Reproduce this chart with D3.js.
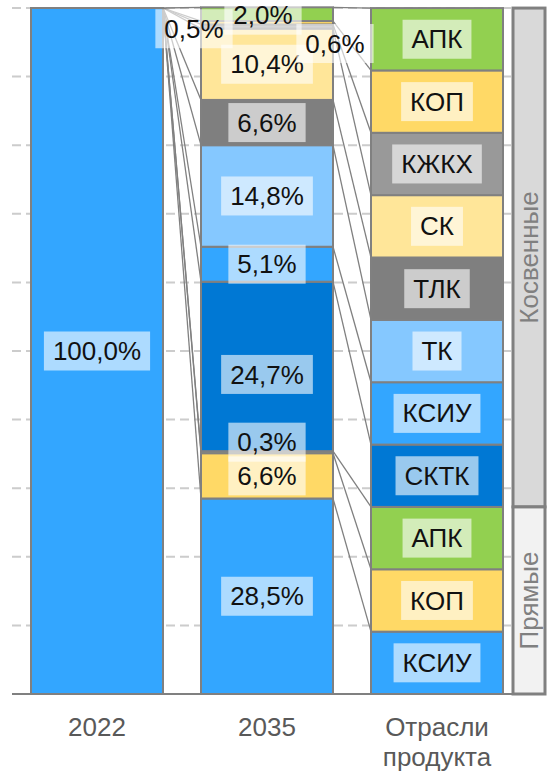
<!DOCTYPE html>
<html>
<head>
<meta charset="utf-8">
<script src="https://cdn.jsdelivr.net/npm/d3@7"></script>
<style>
  html, body { margin: 0; padding: 0; background: #ffffff; }
  svg { display: block; font-family: "Liberation Sans", Arial, sans-serif; }
</style>
</head>
<body>
<svg id="chart" width="548" height="775"></svg>
<script>
// Columns on the x axis
const categories = ["2022", "2035", "Отрасли продукта"];

// Stacked series, bottom to top
const seriesNames = ["КСИУ", "КОП", "АПК", "СКТК", "КСИУ", "ТК", "ТЛК", "СК", "КЖКХ", "КОП", "АПК"];
const seriesGroups = ["Прямые", "Прямые", "Прямые",
  "Косвенные", "Косвенные", "Косвенные", "Косвенные", "Косвенные", "Косвенные", "Косвенные", "Косвенные"];
const seriesColors = ["#33a6ff", "#ffd966", "#92d050", "#0078d4", "#33a6ff", "#85c8ff",
  "#7f7f7f", "#ffe699", "#999999", "#ffd966", "#92d050"];

// Shares, %
const values2022 = [100.0, 0, 0, 0, 0, 0, 0, 0, 0, 0, 0];
const values2035 = [28.5, 6.6, 0.3, 24.7, 5.1, 14.8, 6.6, 10.4, 0.6, 0.5, 2.0];
// Industry column: every industry takes an equal slot
const valuesIndustry = [9.09, 9.09, 9.09, 9.09, 9.09, 9.09, 9.09, 9.09, 9.09, 9.09, 9.09];

// Group bracket fills
const groupNames = ["Косвенные", "Прямые"];
const groupFills = { "Косвенные": "#d9d9d9", "Прямые": "#f2f2f2" };

// Gridline values
const gridTicks = [0, 10, 20, 30, 40, 50, 60, 70, 80, 90, 100];

const W = 548, H = 775;
const margin = { top: 8, right: 26, bottom: 81, left: 12 };
const plotRight = W - margin.right;
const plotBottom = H - margin.bottom;

const svg = d3.select("#chart");

const x = d3.scaleBand()
  .domain(categories)
  .range([margin.left, plotRight])
  .paddingInner(0.2235)
  .paddingOuter(0.2235 / 2);

const y = d3.scaleLinear().domain([0, 100]).range([plotBottom, margin.top]);

const columns = [values2022, values2035, valuesIndustry];

// Stack each column
const stacks = columns.map((vals, ci) => {
  let acc = 0;
  return vals.map((v, si) => {
    const y0 = acc; acc += v;
    return { col: ci, series: si, value: v, y0: y0, y1: acc };
  });
});

// Gridlines
svg.append("g")
  .selectAll("line")
  .data(gridTicks.filter(t => t > 0))
  .join("line")
  .attr("x1", margin.left).attr("x2", plotRight)
  .attr("y1", d => y(d)).attr("y2", d => y(d))
  .attr("stroke", "#cccccc")
  .attr("stroke-width", 2)
  .attr("stroke-dasharray", "9,5");

// Series lines between neighbouring columns
const linesG = svg.append("g");
for (let ci = 0; ci < columns.length - 1; ci++) {
  const xa = x(categories[ci]) + x.bandwidth();
  const xb = x(categories[ci + 1]);
  linesG.selectAll(null)
    .data(seriesNames.map((_, si) => si))
    .join("line")
    .attr("x1", xa).attr("x2", xb)
    .attr("y1", si => y(stacks[ci][si].y1))
    .attr("y2", si => y(stacks[ci + 1][si].y1))
    .attr("stroke", "#808080")
    .attr("stroke-width", 1.3);
}

// Bars
const segs = stacks.flat().filter(d => d.value > 0);
svg.append("g")
  .selectAll("rect")
  .data(segs)
  .join("rect")
  .attr("x", d => x(categories[d.col]))
  .attr("width", x.bandwidth())
  .attr("y", d => y(d.y1))
  .attr("height", d => y(d.y0) - y(d.y1))
  .attr("fill", d => seriesColors[d.series])
  .attr("stroke", "#808080")
  .attr("stroke-width", 2);

// Baseline
svg.append("line")
  .attr("x1", margin.left).attr("x2", 513)
  .attr("y1", y(0)).attr("y2", y(0))
  .attr("stroke", "#808080").attr("stroke-width", 2);

// Data labels
const fmt = v => d3.format(".1f")(v).replace(".", ",") + "%";
const labelNudge = { 2: [0, -10], 3: [0, 8], 8: [68, 17], 9: [-73, 6], 10: [-4, 1] };
const labels = [];
stacks.forEach((col, ci) => {
  col.forEach(d => {
    if (d.value <= 0) return;
    let cx = x(categories[ci]) + x.bandwidth() / 2;
    let cy = (y(d.y0) + y(d.y1)) / 2;
    let text;
    if (ci === 2) {
      text = seriesNames[d.series];
    } else {
      text = fmt(d.value);
      if (ci === 1 && labelNudge[d.series]) {
        cx += labelNudge[d.series][0];
        cy += labelNudge[d.series][1];
      }
    }
    labels.push({ cx, cy, text });
  });
});

const fontSize = 26;
const labelG = svg.append("g");
labels.forEach(l => {
  const g = labelG.append("g");
  const t = g.append("text")
    .attr("x", l.cx).attr("y", l.cy + fontSize * 0.35)
    .attr("text-anchor", "middle")
    .attr("font-size", fontSize)
    .attr("fill", "#111111")
    .text(l.text);
  const w = t.node().getComputedTextLength() + 18;
  g.insert("rect", "text")
    .attr("x", l.cx - w / 2).attr("y", l.cy - 19.5)
    .attr("width", w).attr("height", 39)
    .attr("fill", "#ffffff").attr("fill-opacity", 0.6);
});

// Group bracket on the right, spans follow the industry column
const bx0 = 513, bx1 = 545;
const bracketG = svg.append("g");
groupNames.forEach(gname => {
  const members = stacks[2].filter(d => seriesGroups[d.series] === gname);
  const top = y(d3.max(members, d => d.y1));
  const bot = y(d3.min(members, d => d.y0));
  bracketG.append("rect")
    .attr("x", bx0).attr("y", top)
    .attr("width", bx1 - bx0).attr("height", bot - top)
    .attr("fill", groupFills[gname])
    .attr("stroke", "#808080").attr("stroke-width", 3);
  const cx = (bx0 + bx1) / 2, cy = (top + bot) / 2;
  bracketG.append("text")
    .attr("transform", `translate(${cx + fontSize * 0.35},${cy}) rotate(-90)`)
    .attr("text-anchor", "middle")
    .attr("font-size", fontSize)
    .attr("fill", "#808080")
    .text(gname);
});

// Category labels
const axisG = svg.append("g");
categories.forEach(c => {
  const words = c === "Отрасли продукта" ? ["Отрасли", "продукта"] : [c];
  words.forEach((wd, i) => {
    axisG.append("text")
      .attr("x", x(c) + x.bandwidth() / 2)
      .attr("y", 736 + i * 30)
      .attr("text-anchor", "middle")
      .attr("font-size", fontSize)
      .attr("fill", "#595959")
      .text(wd);
  });
});
</script>
</body>
</html>
